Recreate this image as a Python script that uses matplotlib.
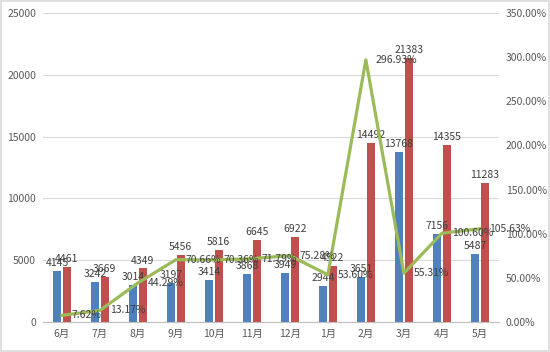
import matplotlib.pyplot as plt
import numpy as np

plt.rcParams['font.family'] = ['Noto Sans CJK SC', 'DejaVu Sans']

# Données
months = ['6月', '7月', '8月', '9月', '10月', '11月', '12月', '1月', '2月', '3月', '4月', '5月']
blue_vals = [4145, 3242, 3014, 3197, 3414, 3868, 3949, 2944, 3651, 13768, 7156, 5487]
red_vals = [4461, 3669, 4349, 5456, 5816, 6645, 6922, 4522, 14492, 21383, 14355, 11283]
growth_pct = [7.62, 13.17, 44.29, 70.66, 70.36, 71.79, 75.28, 53.60, 296.93, 55.31, 100.60, 105.63]

c_blue = '#4F81BD'
c_red = '#C0504D'
c_green = '#9BBB59'
c_text = '#404040'

fig = plt.figure(figsize=(5.5, 3.52), dpi=100)
ax = fig.add_axes([0.078, 0.085, 0.829, 0.878])
ax2 = ax.twinx()

x = np.arange(len(months))
w = 0.22
off = 0.13

ax.bar(x - off, blue_vals, width=w, color=c_blue, zorder=2)
ax.bar(x + off, red_vals, width=w, color=c_red, zorder=2)

# Étiquettes des barres
for xi, v in zip(x, blue_vals):
    ax.annotate(str(v), (xi - off, v), xytext=(0, 2), textcoords='offset points',
                ha='center', va='bottom', fontsize=7.5, color=c_text, zorder=5)
for xi, v in zip(x, red_vals):
    ax.annotate(str(v), (xi + off, v), xytext=(0, 2), textcoords='offset points',
                ha='center', va='bottom', fontsize=7.5, color=c_text, zorder=5)

ax.set_xlim(-0.5, len(months) - 0.5)
ax.set_ylim(0, 25000)
ax.set_yticks(np.arange(0, 25001, 5000))
ax.set_xticks(x)
ax.set_xticklabels(months)
ax.grid(axis='y', color='#D9D9D9', lw=0.8, zorder=0)
ax.set_axisbelow(True)

# Courbe de croissance
ax2.plot(x, np.array(growth_pct) / 100, color=c_green, lw=2.3, zorder=4)
for xi, p in zip(x, growth_pct):
    ax2.annotate(f'{p:.2f}%', (xi, p / 100), xytext=(7, 0), textcoords='offset points',
                 ha='left', va='center', fontsize=7.5, color=c_text, zorder=6)
ax2.set_ylim(0, 3.5)
ax2.set_yticks(np.arange(0, 3.51, 0.5))
ax2.set_yticklabels([f'{v * 100:.2f}%' for v in np.arange(0, 3.51, 0.5)])

for a in (ax, ax2):
    for s in ('top', 'left', 'right'):
        a.spines[s].set_visible(False)
    a.spines['bottom'].set_color('#BFBFBF')
    a.tick_params(length=0, labelsize=7.5, colors='#595959', pad=5)
ax2.spines['bottom'].set_visible(False)

# Cadre gris autour de la figure
fig.patches.append(plt.Rectangle((0.001, 0.002), 0.997, 0.995, transform=fig.transFigure,
                                 fill=False, edgecolor='#D9D9D9', lw=1.2))

fig.savefig('out.png', dpi=100)
